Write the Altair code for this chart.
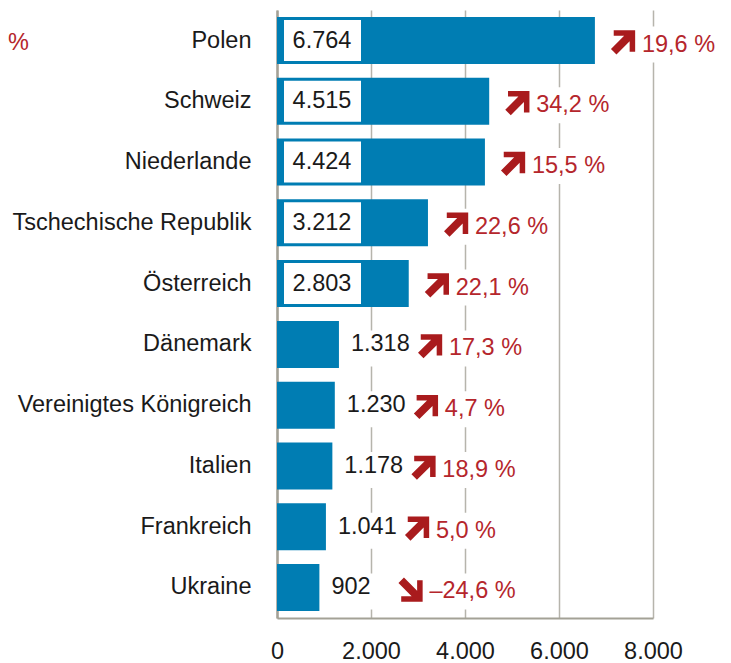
import altair as alt
import pandas as pd

countries = ["Polen", "Schweiz", "Niederlande", "Tschechische Republik", "Österreich",
             "Dänemark", "Vereinigtes Königreich", "Italien", "Frankreich", "Ukraine"]
values = [6764, 4515, 4424, 3212, 2803, 1318, 1230, 1178, 1041, 902]
changes = [19.6, 34.2, 15.5, 22.6, 22.1, 17.3, 4.7, 18.9, 5.0, -24.6]
x_ticks = [0, 2000, 4000, 6000, 8000]

FONT = "Liberation Sans"
BLUE = "#007db3"
RED = "#b5262c"
ARROW = "#a91b1d"
GRID = "#b6b4ac"

df = pd.DataFrame({"country": countries, "value": values, "change": changes})
df["label"] = [f"{v:,}".replace(",", ".") for v in values]
df["pct"] = [("–" if c < 0 else "") + f"{abs(c):.1f}".replace(".", ",") + " %" for c in changes]
df["big"] = df["value"] >= 2000
df["angle"] = [0 if c >= 0 else 90 for c in changes]

PX = 8000 / 376  # data units per pixel

x_scale = alt.Scale(domain=[0, 8000], nice=False)
y_scale = alt.Scale(domain=countries, paddingInner=0.225, paddingOuter=0.115)

base = alt.Chart(df)

y_enc = alt.Y("country:N", scale=y_scale, sort=countries,
              axis=alt.Axis(title=None, ticks=False, labelFontSize=23.5, labelFont=FONT,
                            labelColor="#1a1a1a", labelPadding=26, labelLimit=400,
                            domainColor="#a3a196", domainWidth=2.5, grid=False))

cover = base.transform_calculate(
    end=f"datum.value + (datum.big ? 124 : 190) * {PX}"
).mark_bar(color="white", size=36, yOffset=4).encode(
    x=alt.X("value:Q", scale=x_scale), x2="end:Q", y=alt.Y("country:N", scale=y_scale, sort=countries)
)

bars = base.mark_bar(color=BLUE, size=47).encode(
    x=alt.X("value:Q", scale=x_scale,
            axis=alt.Axis(values=x_ticks, title=None, ticks=False,
                          labelExpr="replace(format(datum.value, ','), ',', '.')",
                          labelFontSize=23.5, labelFont=FONT, labelColor="#1a1a1a",
                          labelPadding=21, labelFlush=False, labelOverlap=False,
                          labelBound=False,
                          grid=True, gridColor=GRID, gridWidth=1.5,
                          domainColor="#a3a196", domainWidth=2)),
    y=y_enc,
)

box = base.transform_filter("datum.big").mark_bar(color="white", size=41).encode(
    x=alt.value(7), x2=alt.value(84), y=alt.Y("country:N", scale=y_scale, sort=countries)
)

inner_text = base.transform_filter("datum.big").mark_text(
    font=FONT, fontSize=23.5, color="#1a1a1a", align="center", baseline="middle"
).encode(x=alt.value(45), y=alt.Y("country:N", scale=y_scale, sort=countries), text="label:N")

outer_text = base.transform_filter("!datum.big").mark_text(
    font=FONT, fontSize=23.5, color="#1a1a1a", align="left", baseline="middle", dx=12
).encode(x=alt.X("value:Q", scale=x_scale), y=alt.Y("country:N", scale=y_scale, sort=countries),
         text="label:N")

arrow_path = ("M1,-1 L1,0.75 L0.55,0.75 L0.55,-0.1 L-0.525,0.975 L-0.975,0.525 "
              "L0.1,-0.55 L-0.75,-0.55 L-0.75,-1 Z")

def arrows(filt, off):
    return base.transform_filter(filt).mark_point(
        shape=arrow_path, filled=True, color=ARROW, opacity=1, size=600, strokeWidth=0,
        xOffset=off, yOffset=2
    ).encode(x=alt.X("value:Q", scale=x_scale),
             y=alt.Y("country:N", scale=y_scale, sort=countries),
             angle=alt.Angle("angle:Q", scale=None))

def pct(filt, off):
    return base.transform_filter(filt).mark_text(
        font=FONT, fontSize=23.5, color=RED, align="left", baseline="middle", dx=off, dy=4
    ).encode(x=alt.X("value:Q", scale=x_scale),
             y=alt.Y("country:N", scale=y_scale, sort=countries), text="pct:N")

stray = alt.Chart(pd.DataFrame({"t": ["%"]})).mark_text(
    font=FONT, fontSize=23.5, color=RED, align="left", baseline="middle"
).encode(x=alt.value(-269), y=alt.value(33), text="t:N")

chart = alt.layer(
    cover, bars, box, inner_text, outer_text,
    arrows("datum.big", 28), arrows("!datum.big", 91),
    pct("datum.big", 28 + 19), pct("!datum.big", 91 + 19),
    stray,
).properties(
    width=376, height=608,
    autosize=alt.AutoSizeParams(type="none"),
    padding={"left": 269, "top": 2, "right": 68, "bottom": 45},
).configure_view(stroke=None)

chart.save("out.html", embed_options={"renderer": "svg", "actions": False})
